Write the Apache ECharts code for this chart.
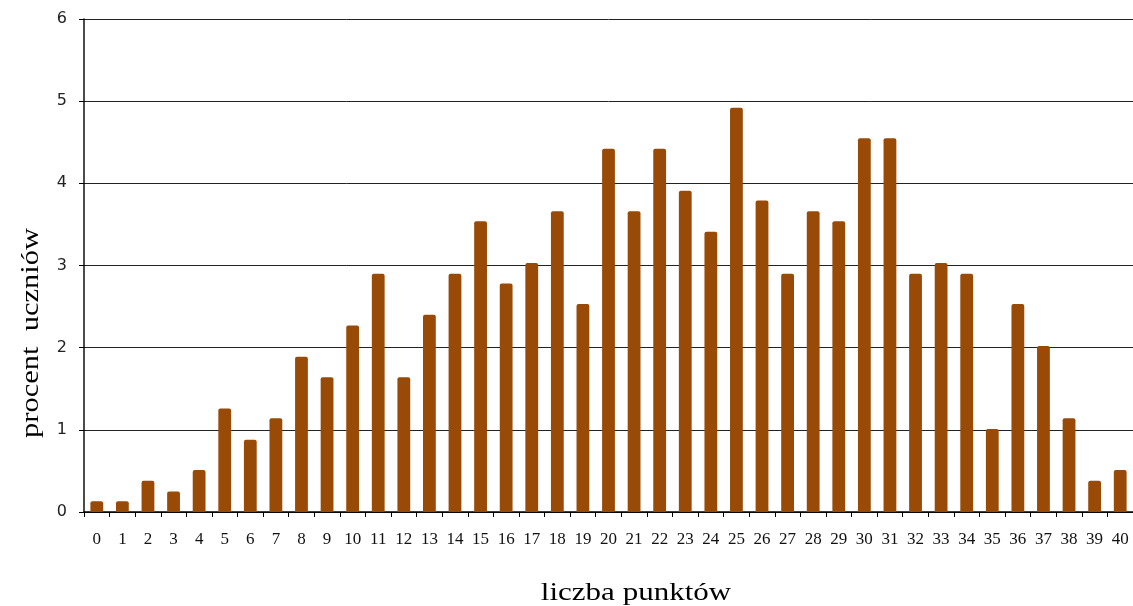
<!DOCTYPE html>
<html>
<head>
<meta charset="utf-8">
<script src="https://cdn.jsdelivr.net/npm/echarts@6/dist/echarts.min.js"></script>
<style>html,body{margin:0;padding:0;background:#fff;}#c{width:1133px;height:606px;}</style>
</head>
<body>
<div id="c"></div>
<script>
const categories = ['0','1','2','3','4','5','6','7','8','9','10','11','12','13','14','15','16','17','18','19','20','21','22','23','24','25','26','27','28','29','30','31','32','33','34','35','36','37','38','39','40'];
const percentValues = [0.13,0.13,0.38,0.25,0.51,1.26,0.88,1.14,1.89,1.64,2.27,2.90,1.64,2.40,2.90,3.54,2.78,3.03,3.66,2.53,4.42,3.66,4.42,3.91,3.41,4.92,3.79,2.90,3.66,3.54,4.55,4.55,2.90,3.03,2.90,1.01,2.53,2.02,1.14,0.38,0.51];
const yTicks = [0,1,2,3,4,5,6];
const xTitle = 'liczba punktów';
const yTitle = 'procent  uczniów';

const chart = echarts.init(document.getElementById('c'), null, {renderer:'canvas'});
chart.setOption({
  animation:false,
  grid:{left:84, right:0, top:19, bottom:94, containLabel:false},
  xAxis:{
    type:'category', data:categories, boundaryGap:true,
    axisLine:{lineStyle:{color:'#000', width:1.5}},
    axisTick:{show:true, length:5, inside:false, lineStyle:{color:'#000'}},
    axisLabel:{margin:19, fontFamily:'Liberation Serif', fontSize:17, color:'#111', interval:0}
  },
  yAxis:{
    type:'value', min:yTicks[0], max:yTicks[yTicks.length-1], interval:1,
    axisLine:{show:true, lineStyle:{color:'#111', width:1.5}},
    axisTick:{show:true, length:5, lineStyle:{color:'#000'}},
    axisLabel:{margin:17, fontFamily:'DejaVu Sans', fontSize:16, color:'#222'},
    splitLine:{show:true, lineStyle:{color:'#222', width:1}}
  },
  series:[{
    type:'bar', data:percentValues, barWidth:'50%',
    itemStyle:{color:'#984A06', borderRadius:[2,2,0,0]}
  }],
  graphic:[
    {type:'text', x:636, y:593, scaleX:1.24, style:{text:xTitle, align:'center', verticalAlign:'middle', fontFamily:'Liberation Serif', fontSize:25, fill:'#000'}},
    {type:'text', x:31, y:333, rotation:Math.PI/2, scaleX:1.22, style:{text:yTitle, align:'center', verticalAlign:'middle', fontFamily:'Liberation Serif', fontSize:25, fill:'#000'}}
  ]
});
</script>
</body>
</html>
